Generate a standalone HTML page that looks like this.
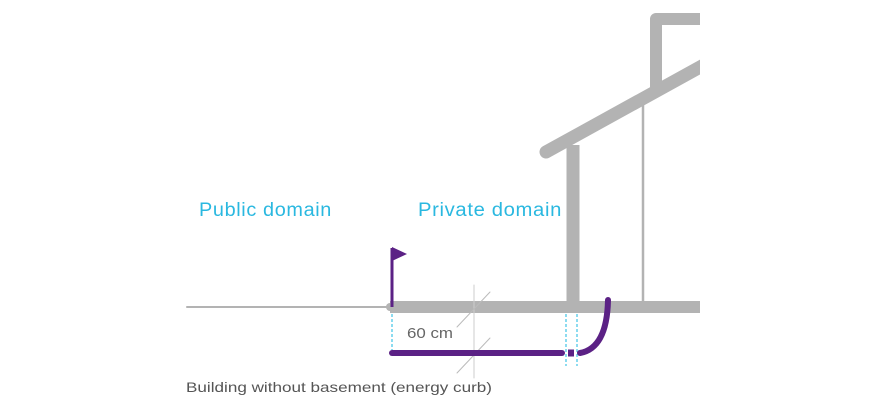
<!DOCTYPE html>
<html><head><style>
body{margin:0;background:#fff;}
svg text{font-family:"Liberation Sans",sans-serif;}
</style></head><body>
<svg width="880" height="400" viewBox="0 0 880 400" xmlns="http://www.w3.org/2000/svg">
<defs><clipPath id="c"><rect x="0" y="0" width="700" height="400"/></clipPath></defs>
<g stroke="#b3b3b3" fill="none" stroke-linecap="round" clip-path="url(#c)">
<line x1="187" y1="307" x2="390" y2="307" stroke-width="2"/>
<line x1="390" y1="307" x2="700" y2="307" stroke-width="12" stroke-linecap="butt"/>
<circle cx="390" cy="307" r="4" fill="#b3b3b3" stroke="none"/>
<line x1="573" y1="145" x2="573" y2="307" stroke-width="13" stroke-linecap="butt"/>
<line x1="546" y1="152" x2="720" y2="56" stroke-width="13"/>
<path d="M656 90 L656 19 L710 19" stroke-width="12" stroke-linecap="butt" stroke-linejoin="round"/>
<line x1="643" y1="104" x2="643" y2="302" stroke-width="2.5"/>
<line x1="474" y1="285" x2="474" y2="378" stroke-width="1" stroke="#ccc"/>
<line x1="457" y1="327" x2="490" y2="292" stroke-width="1" stroke="#bbb"/>
<line x1="457" y1="373" x2="490" y2="338" stroke-width="1" stroke="#bbb"/>
</g>
<g stroke="#4fc8e8" stroke-width="1.3" stroke-dasharray="3,2">
<line x1="392" y1="314" x2="392" y2="350"/>
<line x1="566" y1="314" x2="566" y2="366"/>
<line x1="577" y1="314" x2="577" y2="366"/>
</g>
<g stroke="#5b2185" fill="none" stroke-width="6">
<line x1="392" y1="248" x2="392" y2="307" stroke-width="3"/>
<polygon points="392,247 407,254 392,261" fill="#5b2185" stroke="none"/>
<line x1="392" y1="353" x2="562" y2="353" stroke-linecap="round"/>
<line x1="568" y1="353" x2="574" y2="353" stroke-width="7"/>
<path d="M580 353 Q607 348 608 300" stroke-linecap="round"/>
</g>
<text x="199" y="216" font-size="19" letter-spacing="0.6" fill="#2ab8e0" textLength="133" lengthAdjust="spacingAndGlyphs">Public domain</text>
<text x="418" y="216" font-size="19" letter-spacing="0.6" fill="#2ab8e0" textLength="144" lengthAdjust="spacingAndGlyphs">Private domain</text>
<text x="407" y="338" font-size="15" fill="#666" textLength="46" lengthAdjust="spacingAndGlyphs">60 cm</text>
<text x="186" y="392" font-size="14" fill="#555" textLength="306" lengthAdjust="spacingAndGlyphs">Building without basement (energy curb)</text>
</svg>
</body></html>
